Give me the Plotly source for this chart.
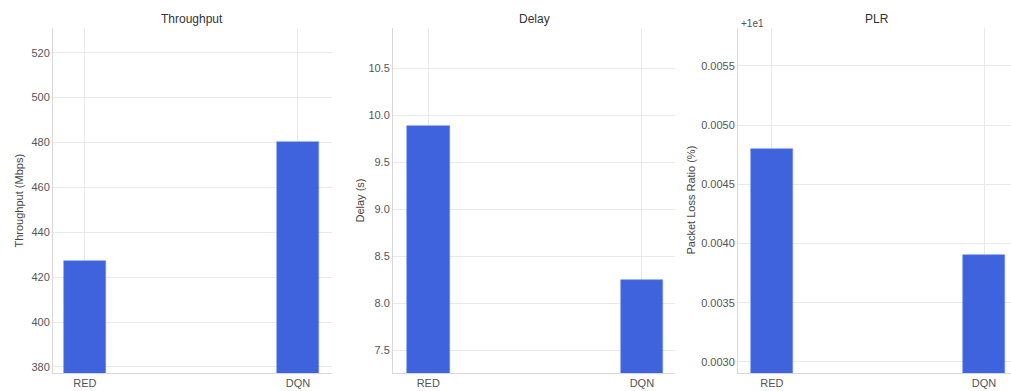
import plotly.graph_objects as go

# ---- data ----
methods = ["RED", "DQN"]
throughput_mbps = [427.0, 480.0]
delay_s = [9.89, 8.25]
plr_pct = [10.0048, 10.0039]
plr_offset = 10.0

throughput_ticks = [380, 400, 420, 440, 460, 480, 500, 520]
delay_ticks = [7.5, 8.0, 8.5, 9.0, 9.5, 10.0, 10.5]
plr_tick_offsets = [0.0030, 0.0035, 0.0040, 0.0045, 0.0050, 0.0055]

# ---- page geometry (pixels) ----
W, H = 1011, 391
TOP, BOTTOM = 28, 373


def fx(px):
    return px / W


def fy(py):
    return 1 - py / H


BAR_COLOR = "#3f63dc"
GRID = "#e9e9e9"
SPINE = "#d8d8d8"
TICK_FONT = dict(family="Liberation Sans, Arial, sans-serif", size=11, color="#555555")
TITLE_FONT = dict(family="Liberation Sans, Arial, sans-serif", size=12, color="#333333")
LABEL_FONT = dict(family="Liberation Sans, Arial, sans-serif", size=11, color="#444444")

panels = [
    dict(vals=throughput_mbps, x0=53, x1=332, xr=[-0.15, 1.16], yr=[377.3, 531.0],
         tv=throughput_ticks, tt=[str(v) for v in throughput_ticks],
         title="Throughput", tcx=192, ylab="Throughput (Mbps)", ylx=18),
    dict(vals=delay_s, x0=393, x1=675, xr=[-0.165, 1.155], yr=[7.255, 10.93],
         tv=delay_ticks, tt=[f"{v:.1f}" for v in delay_ticks],
         title="Delay", tcx=534, ylab="Delay (s)", ylx=359),
    dict(vals=plr_pct, x0=738, x1=1011, xr=[-0.16, 1.127],
         yr=[plr_offset + 0.002907, plr_offset + 0.00582],
         tv=[plr_offset + t for t in plr_tick_offsets],
         tt=[f"{t:.4f}" for t in plr_tick_offsets],
         title="PLR", tcx=877, ylab="Packet Loss Ratio (%)", ylx=690),
]

fig = go.Figure()
annotations = []
layout_axes = {}

for i, p in enumerate(panels, start=1):
    xa = "x" if i == 1 else f"x{i}"
    ya = "y" if i == 1 else f"y{i}"
    fig.add_trace(go.Bar(
        x=[0, 1], y=p["vals"], width=0.2,
        marker=dict(color=BAR_COLOR, line=dict(width=0.6, color="#6f8cf0")),
        xaxis=xa, yaxis=ya, showlegend=False,
    ))
    layout_axes[f"xaxis{'' if i == 1 else i}"] = dict(
        domain=[fx(p["x0"]), fx(p["x1"])], anchor=ya, range=p["xr"],
        tickvals=[0, 1], ticktext=methods, showgrid=True, gridcolor=GRID,
        gridwidth=1, showline=True, linecolor=SPINE, linewidth=1,
        ticks="", zeroline=False, tickfont=TICK_FONT, fixedrange=True,
    )
    layout_axes[f"yaxis{'' if i == 1 else i}"] = dict(
        domain=[fy(BOTTOM), fy(TOP)], anchor=xa, range=p["yr"],
        tickvals=p["tv"], ticktext=p["tt"], showgrid=True, gridcolor=GRID,
        gridwidth=1, showline=True, linecolor=SPINE, linewidth=1,
        ticks="", zeroline=False, tickfont=TICK_FONT, fixedrange=True,
    )
    annotations.append(dict(
        text=p["title"], x=fx(p["tcx"]), y=fy(19), xref="paper", yref="paper",
        xanchor="center", yanchor="middle", showarrow=False, font=TITLE_FONT,
    ))
    annotations.append(dict(
        text=p["ylab"], x=fx(p["ylx"]), y=fy((TOP + BOTTOM) / 2),
        xref="paper", yref="paper", xanchor="center", yanchor="middle",
        textangle=-90, showarrow=False, font=LABEL_FONT,
    ))

# offset marker for the PLR axis
annotations.append(dict(
    text="+1e1", x=fx(752), y=fy(23), xref="paper", yref="paper",
    xanchor="center", yanchor="middle", showarrow=False,
    font=dict(family="Liberation Sans, Arial, sans-serif", size=10, color="#555555"),
))

fig.update_layout(
    width=W, height=H, margin=dict(l=0, r=0, t=0, b=0),
    paper_bgcolor="white", plot_bgcolor="white",
    annotations=annotations, bargap=0, **layout_axes,
)

fig.write_html("out.html")
